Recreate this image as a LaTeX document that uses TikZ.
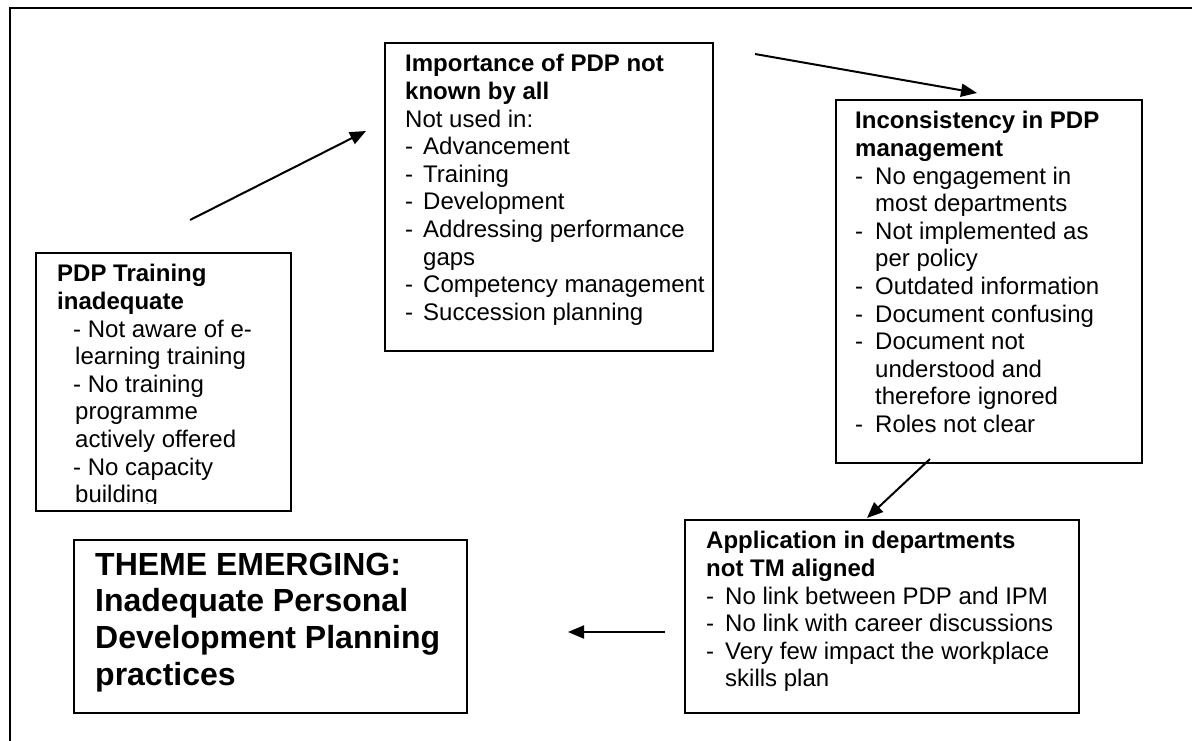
\documentclass[tikz,border=0pt]{standalone}
\usepackage{fontspec}
\setmainfont{Liberation Sans}
\usetikzlibrary{arrows.meta}
% strut with the ascender height of the current font
\newcommand\hd{\rule{0pt}{0.905em}}
% dash bullet followed by a tab stop
\newcommand\dl[1]{\makebox[#1][l]{-}}
\begin{document}
\begin{tikzpicture}[x=1pt,y=-1pt,
  frame/.style={line width=2.4pt},
  box/.style={draw, line width=1.6pt, inner sep=0pt, anchor=north west},
  txt/.style={anchor=north west, inner sep=0pt, align=left,
    font=\fontsize{24}{27.6}\selectfont},
  themetxt/.style={anchor=north west, inner sep=0pt, align=left,
    font=\fontsize{32}{36.8}\selectfont\bfseries},
  link/.style={line width=2pt, -{Triangle[length=16pt,width=13pt]}}]

\useasboundingbox[fill=white] (0,0) rectangle (1192,740);

% surrounding frame, open to the right and bottom
\draw[frame] (10,760) -- (10,8) -- (1210,8);

% boxes
\node[box, minimum width=255pt, minimum height=258pt] (b1) at (35,252) {};
\node[box, minimum width=328pt, minimum height=308pt] (b2) at (384,42) {};
\node[box, minimum width=306pt, minimum height=363pt] (b3) at (835,99) {};
\node[box, minimum width=394pt, minimum height=193pt] (b4) at (684,519) {};
\node[box, minimum width=393pt, minimum height=173pt] (b5) at (73,539) {};

% box texts
\begin{scope}
\clip (35,252) rectangle (290,503);
\node[txt] (t1) at (57,260) {\hd\textbf{PDP Training}\\
  \textbf{inadequate}\\
  \hspace*{16pt}- Not aware of e-\\
  \hspace*{18pt}learning training\\
  \hspace*{16pt}- No training\\
  \hspace*{18pt}programme\\
  \hspace*{18pt}actively offered\\
  \hspace*{16pt}- No capacity\\
  \hspace*{18pt}building};
\end{scope}

\node[txt] (t2) at (405,50) {\hd\textbf{Importance of PDP not}\\
  \textbf{known by all}\\
  Not used in:\\
  \dl{18pt}Advancement\\
  \dl{18pt}Training\\
  \dl{18pt}Development\\
  \dl{18pt}Addressing performance\\
  \hspace*{18pt}gaps\\
  \dl{18pt}Competency management\\
  \dl{18pt}Succession planning};

\node[txt] (t3) at (855,107) {\hd\textbf{Inconsistency in PDP}\\
  \textbf{management}\\
  \dl{20pt}No engagement in\\
  \hspace*{20pt}most departments\\
  \dl{20pt}Not implemented as\\
  \hspace*{20pt}per policy\\
  \dl{20pt}Outdated information\\
  \dl{20pt}Document confusing\\
  \dl{20pt}Document not\\
  \hspace*{20pt}understood and\\
  \hspace*{20pt}therefore ignored\\
  \dl{20pt}Roles not clear};

\node[txt] (t4) at (706,527) {\hd\textbf{Application in departments}\\
  \textbf{not TM aligned}\\
  \dl{19pt}No link between PDP and IPM\\
  \dl{19pt}No link with career discussions\\
  \dl{19pt}Very few impact the workplace\\
  \hspace*{19pt}skills plan};

\node[themetxt] (t5) at (95,546) {\hd THEME EMERGING:\\
  Inadequate Personal\\
  Development Planning\\
  practices};

% connectors
\coordinate (a1s) at (190,220);
\coordinate (a1e) at (366,131);
\coordinate (a2s) at (755,54);
\coordinate (a2e) at (977,93);
\coordinate (a3s) at (930,459);
\coordinate (a3e) at (867,518);
\coordinate (a4s) at (665,632);
\coordinate (a4e) at (568,632);
\draw[link] (a1s) -- (a1e);
\draw[link] (a2s) -- (a2e);
\draw[link] (a3s) -- (a3e);
\draw[link] (a4s) -- (a4e);
\end{tikzpicture}
\end{document}
